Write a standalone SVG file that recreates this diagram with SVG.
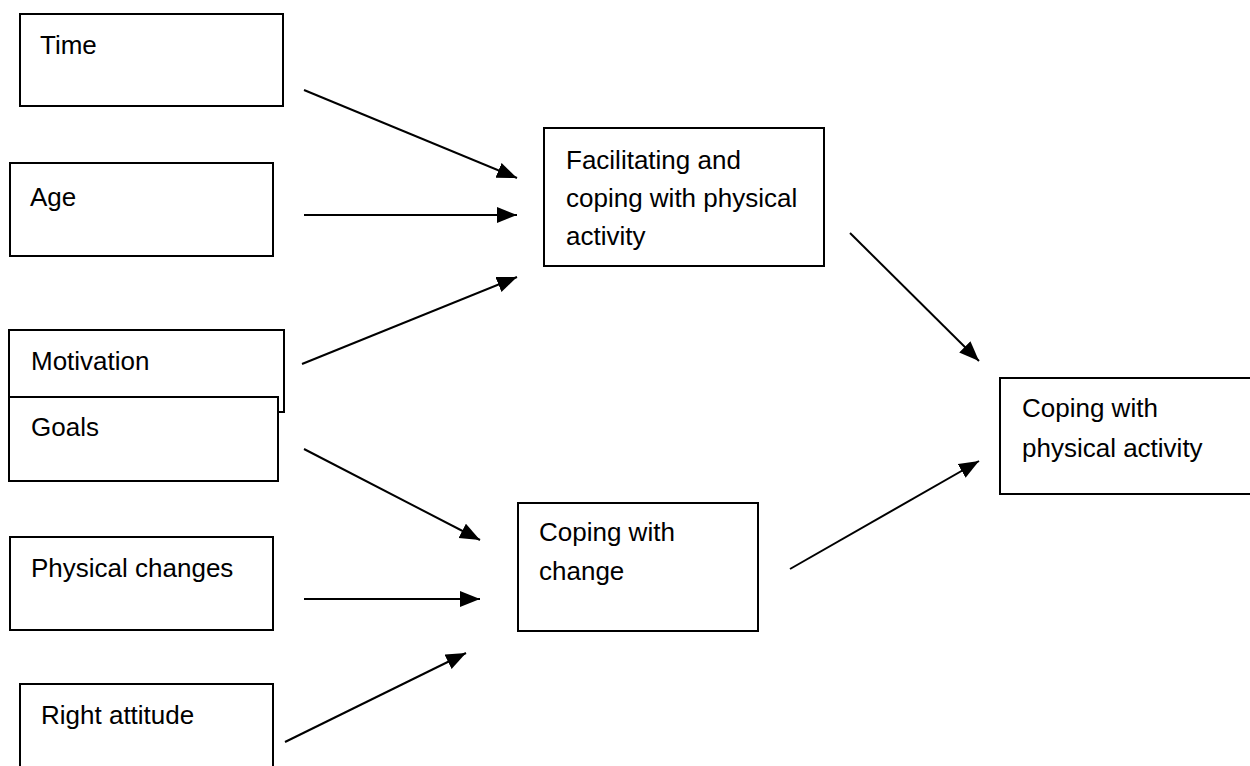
<svg xmlns="http://www.w3.org/2000/svg" width="1250" height="766" viewBox="0 0 1250 766">
<style>
.box{fill:#fff;stroke:#000;stroke-width:2}
.t{font-family:"Liberation Sans",Arial,sans-serif;font-size:26px;fill:#000}
.c{stroke:#000;stroke-width:2;fill:none;marker-end:url(#ah)}
</style>
<defs>
<marker id="ah" markerUnits="userSpaceOnUse" markerWidth="22" markerHeight="18" refX="20" refY="8" orient="auto">
<path d="M0,0 L20,8 L0,16 Z" fill="#000"/>
</marker>
</defs>
<rect width="1250" height="766" fill="#fff"/>
<g id="time"><rect class="box" x="20" y="14" width="263" height="92"/><text class="t" x="40" y="54">Time</text></g>
<g id="age"><rect class="box" x="10" y="163" width="263" height="93"/><text class="t" x="30" y="206">Age</text></g>
<g id="motivation"><rect class="box" x="9" y="330" width="275" height="82"/><text class="t" x="31" y="370">Motivation</text></g>
<g id="goals"><rect class="box" x="9" y="397" width="269" height="84"/><text class="t" x="31" y="436">Goals</text></g>
<g id="physical-changes"><rect class="box" x="10" y="537" width="263" height="93"/><text class="t" x="31" y="577">Physical changes</text></g>
<g id="right-attitude"><rect class="box" x="20" y="684" width="253" height="100"/><text class="t" x="41" y="724">Right attitude</text></g>
<g id="facilitating"><rect class="box" x="544" y="128" width="280" height="138"/><text class="t" x="566" y="169">Facilitating and</text><text class="t" x="566" y="207">coping with physical</text><text class="t" x="566" y="245">activity</text></g>
<g id="coping-change"><rect class="box" x="518" y="503" width="240" height="128"/><text class="t" x="539" y="541">Coping with</text><text class="t" x="539" y="580">change</text></g>
<g id="coping-pa"><rect class="box" x="1000" y="378" width="260" height="116"/><text class="t" x="1022" y="417">Coping with</text><text class="t" x="1022" y="457">physical activity</text></g>
<g id="connectors">
<line class="c" x1="304" y1="90" x2="517" y2="178"/>
<line class="c" x1="304" y1="215" x2="517" y2="215"/>
<line class="c" x1="302" y1="364" x2="517" y2="277"/>
<line class="c" x1="850" y1="233" x2="979" y2="361"/>
<line class="c" x1="304" y1="449" x2="480" y2="540"/>
<line class="c" x1="304" y1="599" x2="480" y2="599"/>
<line class="c" x1="285" y1="742" x2="466" y2="653"/>
<line class="c" x1="790" y1="569" x2="979" y2="461"/>
</g>
</svg>
